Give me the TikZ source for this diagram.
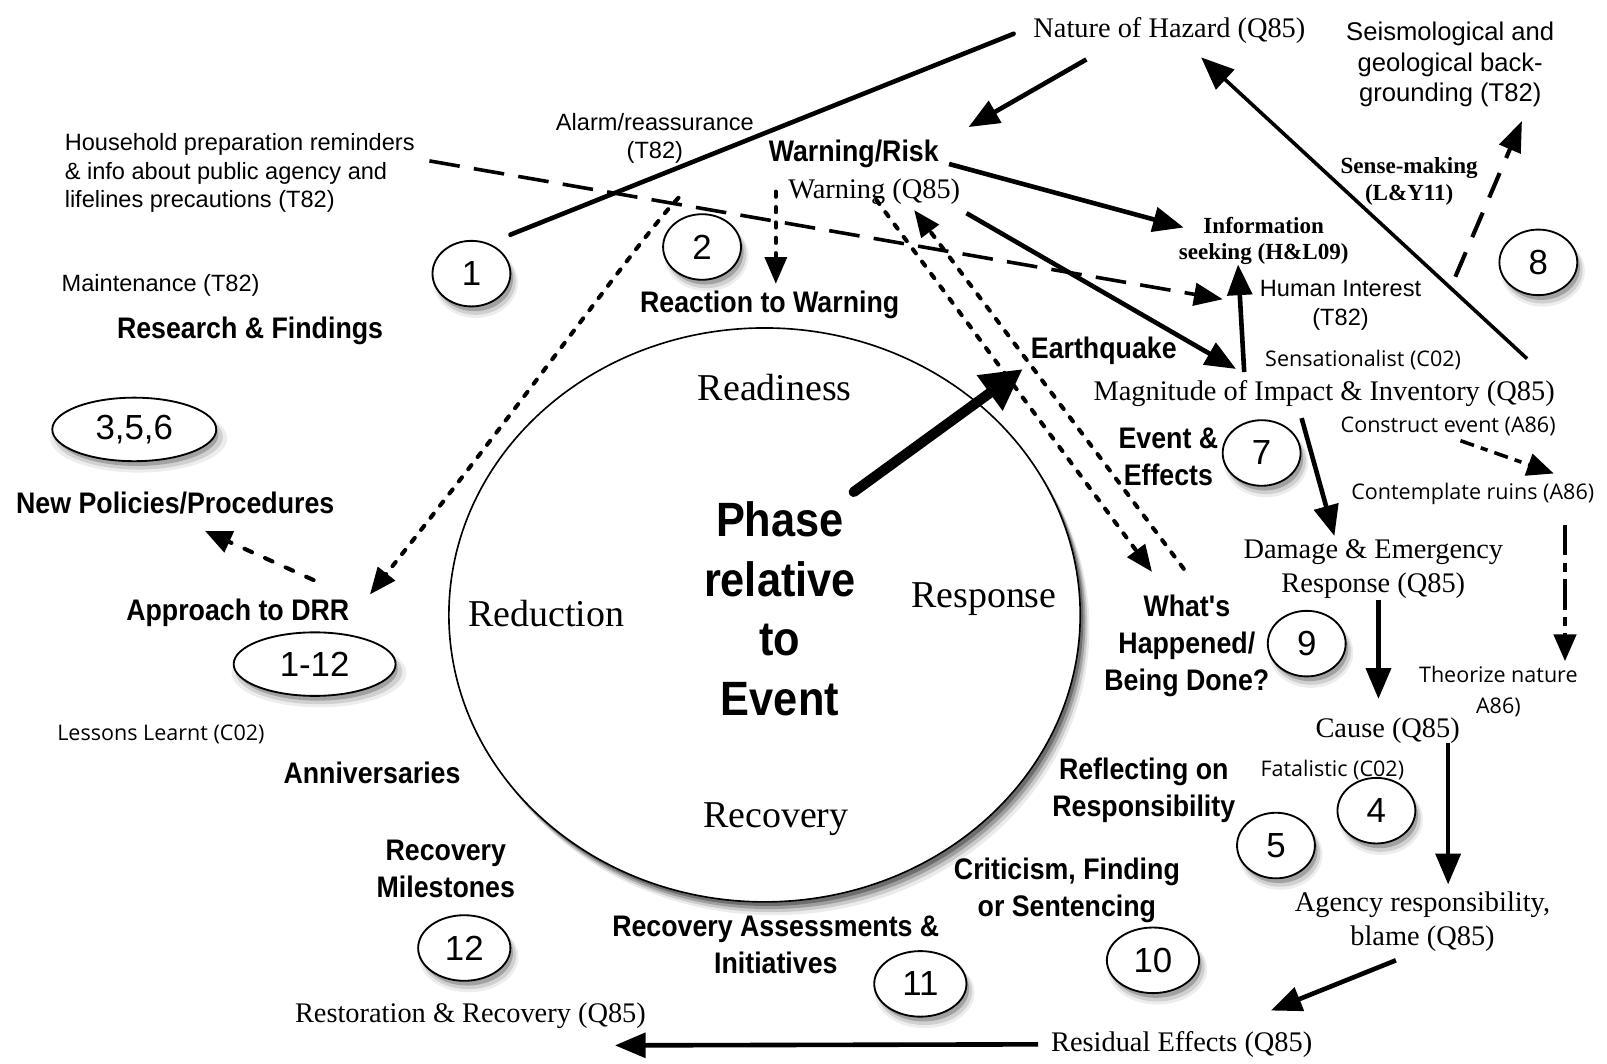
\documentclass[tikz,border=0pt]{standalone}
\usepackage{fontspec}
\setmainfont{Liberation Serif}
\newfontfamily\sansf{Liberation Sans}
\newfontfamily\condf{Liberation Sans}[FakeStretch=0.9]
\newfontfamily\humf{Open Sans}
\usetikzlibrary{arrows.meta,shapes.geometric,shadows}

\tikzset{
  softshadow/.style={
    general shadow={fill=black,opacity=0.07,shadow xshift=4pt,shadow yshift=-8pt,shadow scale=1.08},
    general shadow={fill=black,opacity=0.12,shadow xshift=4pt,shadow yshift=-7pt,shadow scale=1.03},
    general shadow={fill=black,opacity=0.22,shadow xshift=3pt,shadow yshift=-5pt,shadow scale=0.99}},
  bigshadow/.style={
    general shadow={fill=black,opacity=0.08,shadow xshift=9pt,shadow yshift=-13pt,shadow scale=1.0},
    general shadow={fill=black,opacity=0.14,shadow xshift=7pt,shadow yshift=-10pt,shadow scale=1.0},
    general shadow={fill=black,opacity=0.22,shadow xshift=5pt,shadow yshift=-7pt,shadow scale=1.0},
    general shadow={fill=black,opacity=0.3,shadow xshift=3pt,shadow yshift=-4pt,shadow scale=1.0}},
  serif/.style={font=\fontsize{27.7}{33}\selectfont, inner sep=0pt, align=center, yshift=-3pt},
  phaselbl/.style={font=\fontsize{37}{40}\selectfont, inner sep=0pt, yshift=-2pt},
  src/.style={font=\sansf\fontsize{23}{28}\selectfont, inner sep=0pt, align=center, yshift=-3pt},
  topic/.style={font=\condf\bfseries\fontsize{29}{36}\selectfont, inner sep=0pt, align=center, yshift=-3pt},
  cite/.style={font=\humf\fontsize{21}{30}\selectfont, inner sep=0pt, align=center, yshift=-2pt},
  bibbold/.style={font=\bfseries\fontsize{22.5}{26}\selectfont, inner sep=0pt, align=center, yshift=-3pt},
  numb/.style={ellipse, draw, line width=1.8pt, fill=white, inner sep=0pt,
    font=\sansf\fontsize{34}{34}\selectfont, minimum width=76pt, minimum height=64pt, softshadow},
  link/.style={line width=4.5pt, -{Triangle[length=30pt,width=24pt]}},
  plainlink/.style={line width=4.5pt, line cap=round},
  dotlink/.style={line width=4pt, line cap=round, dash pattern=on 5pt off 10pt,
    -{Triangle[length=26pt,width=21pt]}},
}

\begin{document}
\begin{tikzpicture}[x=1pt,y=-1pt]
\useasboundingbox (0,0) rectangle (1568,1038);

% central phase ellipse
\node[ellipse, draw, line width=1.6pt, fill=white, minimum width=616pt, minimum height=560pt, bigshadow]
  (phasecirc) at (746,600) {};
\node[phaselbl] (readiness) at (756,376) {Readiness};
\node[phaselbl] (reduction) at (533,597) {Reduction};
\node[phaselbl] (response) at (960,583) {Response};
\node[phaselbl] (recovery) at (757,797) {Recovery};
\node[font=\condf\bfseries\fontsize{47}{58}\selectfont, inner sep=0pt, align=center, yshift=-2pt]
  (phase) at (761,592) {Phase\\relative\\to\\Event};

% serif topic labels
\node[serif] (nature) at (1141,27) {Nature of Hazard (Q85)};
\node[serif] (warnq) at (853,184) {Warning (Q85)};
\node[serif] (magnitude) at (1292,381) {Magnitude of Impact \& Inventory (Q85)};
\node[serif] (damage) at (1340,552) {Damage \& Emergency\\Response (Q85)};
\node[serif] (cause) at (1354,710) {Cause (Q85)};
\node[serif] (agency) at (1388,896) {Agency responsibility,\\blame (Q85)};
\node[serif] (residual) at (1153,1016) {Residual Effects (Q85)};
\node[serif] (restoration) at (459,988) {Restoration \& Recovery (Q85)};

% sans source labels
\node[src, anchor=west, align=left] (household) at (63,166)
  {Household preparation reminders\\\& info about public agency and\\lifelines precautions (T82)};
\node[src] (alarm) at (639,132) {Alarm/reassurance\\(T82)};
\node[src, font=\sansf\fontsize{25}{30}\selectfont] (seismo) at (1415,60)
  {Seismological and\\geological back-\\grounding (T82)};
\node[src] (human) at (1308,295) {Human Interest\\(T82)};
\node[src, anchor=west] (maint) at (60,275) {Maintenance (T82)};

% humanist sans citation labels
\node[cite] (sensational) at (1330,349) {Sensationalist (C02)};
\node[cite] (construct) at (1413,414) {Construct event (A86)};
\node[cite] (contemplate) at (1437,480) {Contemplate ruins (A86)};
\node[cite] (theorize) at (1462,673) {Theorize nature\\A86)};
\node[cite] (fatal) at (1300,749) {Fatalistic (C02)};
\node[cite] (lessons) at (157,715) {Lessons Learnt (C02)};

% bold serif labels
\node[bibbold] (infoseek) at (1233,232) {Information\\seeking (H\&L09)};
\node[bibbold] (sensemaking) at (1375,174) {Sense-making\\(L\&Y11)};

% bold condensed topic labels
\node[topic] (warnrisk) at (833,147) {Warning/Risk};
\node[topic] (reaction) at (751,294) {Reaction to Warning};
\node[topic] (research) at (244,320) {Research \& Findings};
\node[topic] (earthquake) at (1077,339) {Earthquake};
\node[topic] (evfx) at (1140,443) {Event \&\\Effects};
\node[topic] (newpol) at (171,488) {New Policies/Procedures};
\node[topic] (drr) at (232,595) {Approach to DRR};
\node[topic] (whats) at (1158,627) {What's\\Happened/\\Being Done?};
\node[topic] (reflect) at (1116,768) {Reflecting on\\Responsibility};
\node[topic] (anniv) at (363,751) {Anniversaries};
\node[topic] (milest) at (435,845) {Recovery\\Milestones};
\node[topic] (critic) at (1041,866) {Criticism, Finding\\or Sentencing};
\node[topic] (assess) at (757,919) {Recovery Assessments \&\\Initiatives};

% numbered ellipses
\node[numb] (n1) at (460,267) {1};
\node[numb] (n2) at (685,241) {2};
\node[numb] (n8) at (1501,256) {8};
\node[numb] (n7) at (1231,442) {7};
\node[numb] (n9) at (1275,628) {9};
\node[numb] (n4) at (1343,791) {4};
\node[numb] (n5) at (1245,825) {5};
\node[numb, minimum width=90pt] (n10) at (1125,937) {10};
\node[numb, minimum width=90pt] (n11) at (898,960) {11};
\node[numb, minimum width=90pt] (n12) at (453,925) {12};
\node[numb, minimum width=160pt, minimum height=62pt] (n356) at (131,419) {3,5,6};
\node[numb, minimum width=158pt, minimum height=62pt] (n112) at (307,648) {1-12};

% connector end points
\coordinate (aS) at (498,229);  \coordinate (aE) at (989,33);
\coordinate (bS) at (1060,58);  \coordinate (bE) at (945,124);
\coordinate (cS) at (419,157);  \coordinate (cE) at (1193,292);
\coordinate (dS) at (926,160);  \coordinate (dE) at (1155,222);
\coordinate (eS) at (943,208);  \coordinate (eE) at (1206,360);
\coordinate (fS) at (1214,363); \coordinate (fE) at (1208,258);
\coordinate (gS) at (1490,350); \coordinate (gE) at (1172,56);
\coordinate (hS) at (1420,270); \coordinate (hE) at (1485,118);
\coordinate (iS) at (757,187);  \coordinate (iE) at (757,277);
\coordinate (jS) at (662,193);  \coordinate (jE) at (361,580);
\coordinate (kS) at (855,195);  \coordinate (kE) at (1124,558);
\coordinate (lS) at (1155,555); \coordinate (lE) at (892,205);
\coordinate (mS) at (833,480);  \coordinate (mE) at (998,360);
\coordinate (nS) at (1270,408); \coordinate (nE) at (1302,523);
\coordinate (oS) at (1425,430); \coordinate (oE) at (1516,462);
\coordinate (pS) at (1527,512); \coordinate (pE) at (1527,645);
\coordinate (qS) at (1345,585); \coordinate (qE) at (1345,682);
\coordinate (rS) at (1413,725); \coordinate (rE) at (1413,863);
\coordinate (sS) at (1362,937); \coordinate (sE) at (1240,986);
\coordinate (tS) at (1013,1019);\coordinate (tE) at (600,1020);
\coordinate (uS) at (306,566);  \coordinate (uE) at (200,518);

% solid connectors
\draw[plainlink] (aS) -- (aE);
\draw[link] (bS) -- (bE);
\draw[link] (dS) -- (dE);
\draw[link] (eS) -- (eE);
\draw[link] (fS) -- (fE);
\draw[line width=3.5pt, -{Triangle[length=32pt,width=26pt]}] (gS) -- (gE);
\draw[link] (nS) -- (nE);
\draw[link] (qS) -- (qE);
\draw[link] (rS) -- (rE);
\draw[link] (sS) -- (sE);
\draw[link] (tS) -- (tE);
\draw[line width=10pt, line cap=round, -{Triangle[length=40pt,width=40pt]}] (mS) -- (mE);

% dashed connectors
\draw[line width=3.5pt, dash pattern=on 30pt off 14pt, -{Triangle[length=28pt,width=22pt]}] (cS) -- (cE);
\draw[line width=4pt, dash pattern=on 26pt off 16pt, -{Triangle[length=30pt,width=22pt]}] (hS) -- (hE);
\draw[line width=4pt, line cap=round, dash pattern=on 8pt off 14pt, -{Triangle[length=26pt,width=22pt]}] (uS) -- (uE);
\draw[line width=3.5pt, dash pattern=on 14pt off 7pt on 7pt off 7pt, -{Triangle[length=26pt,width=22pt]}] (oS) -- (oE);
\draw[line width=3pt, dash pattern=on 30pt off 7pt on 9pt off 7pt, -{Triangle[length=26pt,width=22pt]}] (pS) -- (pE);

% dotted connectors
\draw[dotlink] (iS) -- (iE);
\draw[dotlink] (jS) .. controls (628,228) and (520,380) .. (jE);
\draw[dotlink] (kS) -- (kE);
\draw[dotlink] (lS) -- (lE);
\end{tikzpicture}
\end{document}
